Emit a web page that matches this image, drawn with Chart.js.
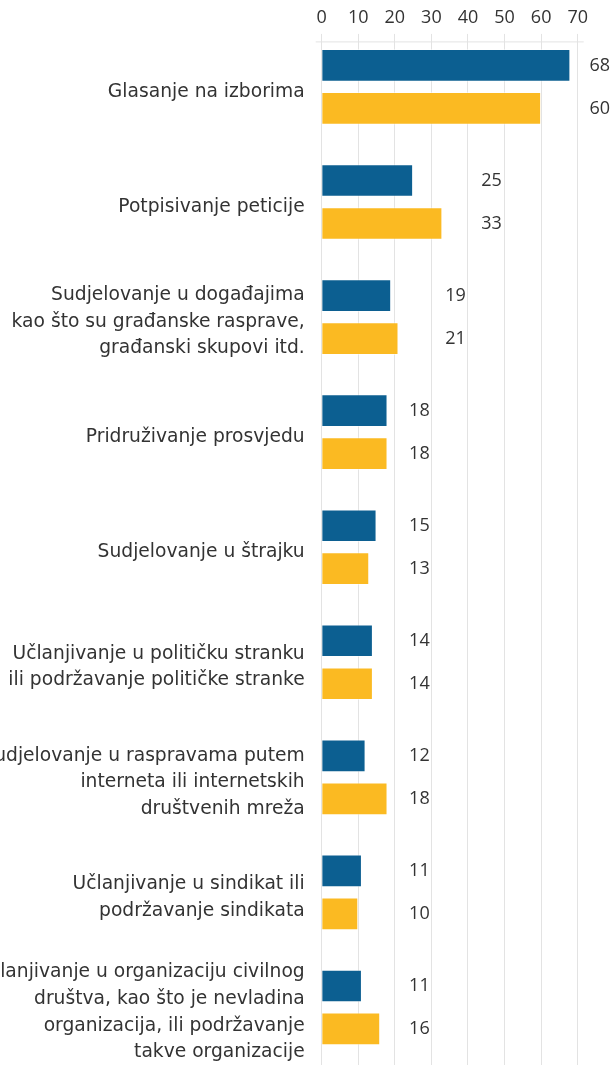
<!DOCTYPE html>
<html>
<head>
<meta charset="utf-8">
<script src="https://cdn.jsdelivr.net/npm/chart.js@4/dist/chart.umd.min.js"></script>
<style>
    html, body { margin: 0; padding: 0; background: #fff; }
    #wrap { position: relative; width: 613px; height: 1065px; }
</style>
</head>
<body>
<div id="wrap"><canvas id="chart"></canvas></div>
<script>
const categories = [
    'Glasanje na izborima',
    'Potpisivanje peticije',
    ['Sudjelovanje u događajima', 'kao što su građanske rasprave,', 'građanski skupovi itd.'],
    'Pridruživanje prosvjedu',
    'Sudjelovanje u štrajku',
    ['Učlanjivanje u političku stranku', 'ili podržavanje političke stranke'],
    ['Sudjelovanje u raspravama putem', 'interneta ili internetskih', 'društvenih mreža'],
    ['Učlanjivanje u sindikat ili', 'podržavanje sindikata'],
    ['Učlanjivanje u organizaciju civilnog', 'društva, kao što je nevladina', 'organizacija, ili podržavanje', 'takve organizacije']
];
const seriesA = [68, 25, 19, 18, 15, 14, 12, 11, 11];
const seriesB = [60, 33, 21, 18, 13, 14, 18, 10, 16];
const xTicks = [0, 10, 20, 30, 40, 50, 60, 70];

const TEXT = '#333';
const NUM_FONT = "'Open Sans', sans-serif";
const CAT_FONT = "'DejaVu Sans', sans-serif";

// value labels sit in a column per category (in axis units)
const valueLabels = {
    id: 'valueLabels',
    beforeDatasetsDraw(chart) {
        const { ctx, chartArea } = chart;
        const xs = chart.scales.x;
        // gridlines start a little below the plot top, with the axis line under them
        ctx.save();
        ctx.fillStyle = '#fff';
        ctx.fillRect(chartArea.left - 2, chartArea.top - 1, chartArea.width + 4, 5.5);
        ctx.strokeStyle = '#e3e3e3';
        ctx.lineWidth = 1;
        ctx.beginPath();
        ctx.moveTo(xs.getPixelForValue(0) - 6, chartArea.top + 12.5);
        ctx.lineTo(xs.getPixelForValue(70) + 6, chartArea.top + 12.5);
        ctx.stroke();
        ctx.restore();
    },
    afterDatasetsDraw(chart, args, opts) {
        const { ctx } = chart;
        const xs = chart.scales.x;
        ctx.save();
        ctx.font = '18px ' + NUM_FONT;
        ctx.fillStyle = TEXT;
        ctx.textAlign = 'left';
        ctx.textBaseline = 'middle';
        chart.data.datasets.forEach((ds, i) => {
            chart.getDatasetMeta(i).data.forEach((bar, j) => {
                ctx.fillText(ds.data[j], xs.getPixelForValue(opts.labelAt[j]), bar.y);
            });
        });
        ctx.restore();
    }
};

new Chart(document.getElementById('chart'), {
    type: 'bar',
    data: {
        labels: categories,
        datasets: [{
            label: 'Serija 1',
            data: seriesA,
            backgroundColor: '#0c5f91',
            borderColor: 'rgba(255,255,255,0.45)',
            borderWidth: 1
        }, {
            label: 'Serija 2',
            data: seriesB,
            backgroundColor: '#fbba22',
            borderColor: 'rgba(255,255,255,0.45)',
            borderWidth: 1
        }]
    },
    options: {
        indexAxis: 'y',
        responsive: true,
        maintainAspectRatio: false,
        animation: false,
        categoryPercentage: 0.747,
        barPercentage: 0.76,
        layout: {
            padding: { top: 6.2, right: 35.3, bottom: 0, left: 0 }
        },
        plugins: {
            legend: { display: false },
            tooltip: { enabled: false },
            valueLabels: {
                labelAt: [73.2, 43.6, 33.8, 23.9, 23.9, 23.9, 23.9, 23.9, 23.9]
            }
        },
        scales: {
            x: {
                position: 'top',
                min: 0,
                max: 70,
                afterBuildTicks: (scale) => {
                    scale.ticks = xTicks.map(v => ({ value: v }));
                },
                grid: {
                    color: '#e3e3e3',
                    drawTicks: false
                },
                border: { display: false },
                ticks: {
                    color: TEXT,
                    font: { family: NUM_FONT, size: 18 },
                    padding: 0.8
                }
            },
            y: {
                afterFit: (scale) => {
                    // long labels run off the left edge, as in the source
                    scale.width = 321.7;
                    scale.paddingTop = 0;
                    scale.paddingBottom = 0;
                },
                grid: { display: false, drawTicks: false },
                border: { display: false },
                ticks: {
                    color: TEXT,
                    font: { family: CAT_FONT, size: 18.7, lineHeight: 1.42 },
                    padding: 17,
                    labelOffset: 5
                }
            }
        }
    },
    plugins: [valueLabels]
});
</script>
</body>
</html>
